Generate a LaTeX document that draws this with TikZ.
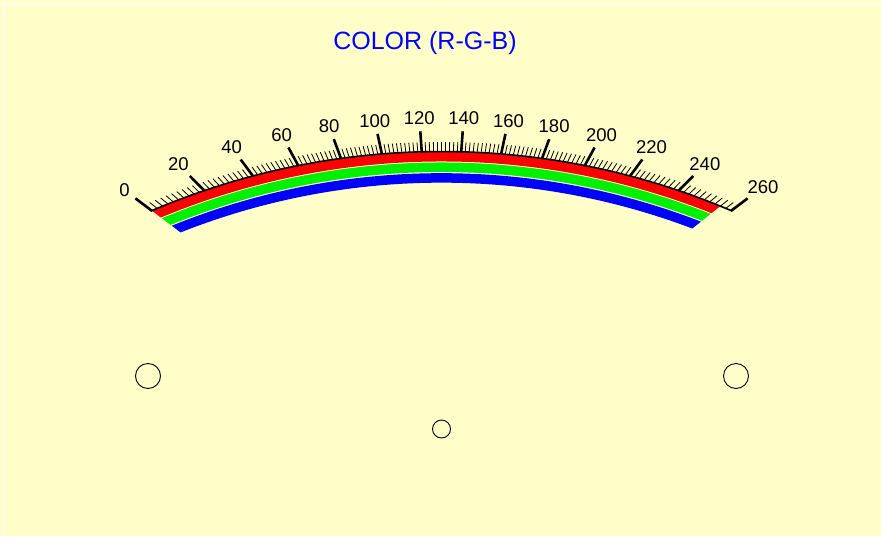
\documentclass[tikz,border=0pt]{standalone}
\usepackage{fontspec}
\setmainfont{Liberation Sans}
\usetikzlibrary{positioning,calc}
\definecolor{panel}{RGB}{255,253,200}
\definecolor{meterred}{RGB}{255,0,0}
\definecolor{metergreen}{RGB}{0,240,0}
\definecolor{meterblue}{RGB}{0,0,255}
\tikzset{hole/.style={draw,circle,inner sep=0pt,line width=0.9pt},
 band/.style={line width=9.5pt},
 minor tick/.style={line width=0.8pt},
 major tick/.style={line width=2.6pt}}

\begin{document}
\begin{tikzpicture}[x=1pt,y=1pt,scalelabel/.style={font=\fontsize{18.5}{18.5}\selectfont,inner sep=1.5pt}]
\fill[panel] (0,0) rectangle (881,-536);
\useasboundingbox (0,0) rectangle (881,-536);
\draw[white!70!panel,line width=0.8pt] (2,-536) -- (2,-2) -- (881,-2);
\draw[white!70!panel,line width=0.8pt] (4.5,-536) -- (4.5,-4.5) -- (881,-4.5);

\node[hole,minimum size=18pt] (pivot) at (441.5,-429) {};
\node[hole,minimum size=25pt] (lefthole) at (148,-376) {};
\node[hole,minimum size=25pt] (righthole) at (736,-376) {};
\node[text=meterblue,font=\fontsize{25}{25}\selectfont] (title) at (425,-43) {COLOR (R-G-B)};

\coordinate (arccentre) at (441.5,-891);
\begin{scope}
\clip (pivot.center) -- ($(pivot.center)+(143:900)$) -- ($(pivot.center)+(90:1300)$) -- ($(pivot.center)+(38.63:900)$) -- cycle;
\foreach \col/\rad in {meterred/734.3, metergreen/723.8, meterblue/713.1}
  \draw[band,\col] (arccentre) ++(125:\rad) arc[start angle=125,end angle=55,radius=\rad];
\end{scope}
\draw[line width=1.6pt] (arccentre) ++(113.08:739.5) arc[start angle=113.08,end angle=66.92,radius=739.5];

\foreach \v in {0,2,...,260}{
  \pgfmathsetmacro{\a}{90+(130-\v)*0.4077}
  \pgfmathsetmacro{\t}{100*(sqrt(7.39*7.39-4.62*4.62*cos(\a)*cos(\a))-4.62*sin(\a))}
  \pgfmathtruncatemacro{\b}{\a+180}
  \pgfmathtruncatemacro{\ismajor}{mod(\v,20)==0}
  \ifnum\ismajor=1
    \draw[major tick] (pivot.center) ++(\a:\t) -- ++(\a:21);
    \node[scalelabel,anchor=\b] (label\v) at ($(pivot.center)+(\a:\t+26)$) {\v};
  \else
    \draw[minor tick] (pivot.center) ++(\a:\t) -- ++(\a:10);
  \fi
}
\end{tikzpicture}
\end{document}
